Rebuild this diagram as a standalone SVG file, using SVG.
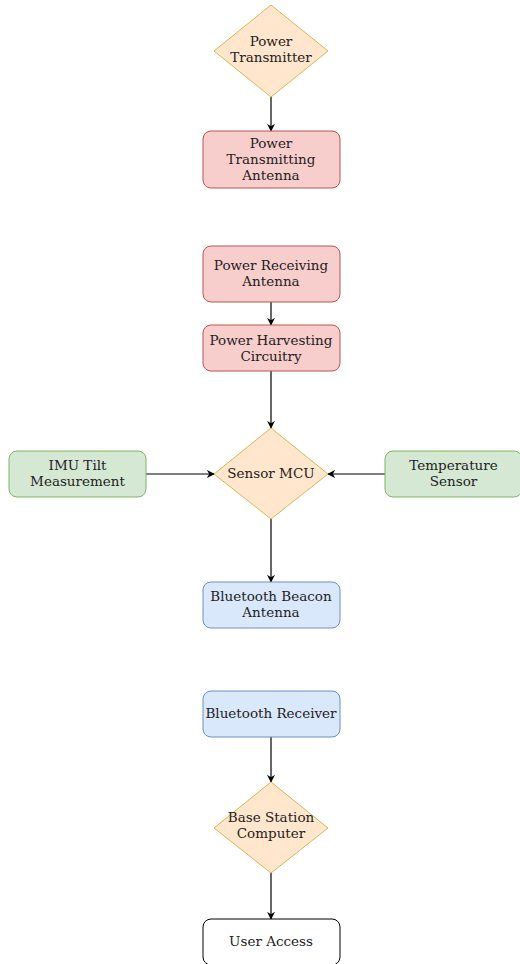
<svg xmlns="http://www.w3.org/2000/svg" width="520" height="964" viewBox="0 0 520 964">
<defs>
<marker id="ah" viewBox="0 0 10 10" refX="9" refY="5" markerWidth="8" markerHeight="8" markerUnits="userSpaceOnUse" orient="auto">
<path d="M0,0 L10,5 L0,10 L3,5 Z" fill="#000"/>
</marker>
</defs>
<style>
text{font-family:"DejaVu Serif",serif;font-size:13.5px;fill:#222;text-anchor:middle}
.dia{fill:#ffe6cc;stroke:#d6b656;stroke-width:1}
.red{fill:#f8cecc;stroke:#b85450;stroke-width:1}
.grn{fill:#d5e8d4;stroke:#82b366;stroke-width:1}
.blu{fill:#dae8fc;stroke:#6c8ebf;stroke-width:1}
.wht{fill:#fff;stroke:#000;stroke-width:1}
.edge{stroke:#000;stroke-width:1.2;fill:none;marker-end:url(#ah)}
</style>
<rect width="520" height="964" fill="#fff"/>
<g id="edges">
<line class="edge" x1="271" y1="97" x2="271" y2="131"/>
<line class="edge" x1="271" y1="302" x2="271" y2="325"/>
<line class="edge" x1="271" y1="371" x2="271" y2="428"/>
<line class="edge" x1="146" y1="474" x2="214" y2="474"/>
<line class="edge" x1="385" y1="474" x2="328" y2="474"/>
<line class="edge" x1="271" y1="519" x2="271" y2="582"/>
<line class="edge" x1="271" y1="737" x2="271" y2="782"/>
<line class="edge" x1="271" y1="873" x2="271" y2="919"/>
</g>
<g id="power-transmitter">
<polygon class="dia" points="271,5 328,51 271,97 214,51"/>
<text x="271" y="46">Power</text>
<text x="271" y="62">Transmitter</text>
</g>
<g id="power-transmitting-antenna">
<rect class="red" x="203" y="131" width="137" height="57" rx="8"/>
<text x="271" y="148">Power</text>
<text x="271" y="164">Transmitting</text>
<text x="271" y="180">Antenna</text>
</g>
<g id="power-receiving-antenna">
<rect class="red" x="203" y="246" width="137" height="56" rx="8"/>
<text x="271" y="270">Power Receiving</text>
<text x="271" y="286">Antenna</text>
</g>
<g id="power-harvesting">
<rect class="red" x="203" y="325" width="137" height="46" rx="8"/>
<text x="271" y="345">Power Harvesting</text>
<text x="271" y="361">Circuitry</text>
</g>
<g id="sensor-mcu">
<polygon class="dia" points="271,428 328,474 271,519 214,474"/>
<text x="271" y="478">Sensor MCU</text>
</g>
<g id="imu">
<rect class="grn" x="9" y="451" width="137" height="46" rx="8"/>
<text x="77.5" y="470">IMU Tilt</text>
<text x="77.5" y="486">Measurement</text>
</g>
<g id="temperature">
<rect class="grn" x="385" y="451" width="137" height="46" rx="8"/>
<text x="453.5" y="470">Temperature</text>
<text x="453.5" y="486">Sensor</text>
</g>
<g id="bt-beacon">
<rect class="blu" x="203" y="582" width="137" height="46" rx="8"/>
<text x="271" y="601">Bluetooth Beacon</text>
<text x="271" y="617">Antenna</text>
</g>
<g id="bt-receiver">
<rect class="blu" x="203" y="691" width="137" height="46" rx="8"/>
<text x="271" y="718">Bluetooth Receiver</text>
</g>
<g id="base-station">
<polygon class="dia" points="271,782 328,828 271,873 214,828"/>
<text x="271" y="822">Base Station</text>
<text x="271" y="838">Computer</text>
</g>
<g id="user-access">
<rect class="wht" x="203" y="919" width="137" height="46" rx="8"/>
<text x="271" y="946">User Access</text>
</g>
</svg>
